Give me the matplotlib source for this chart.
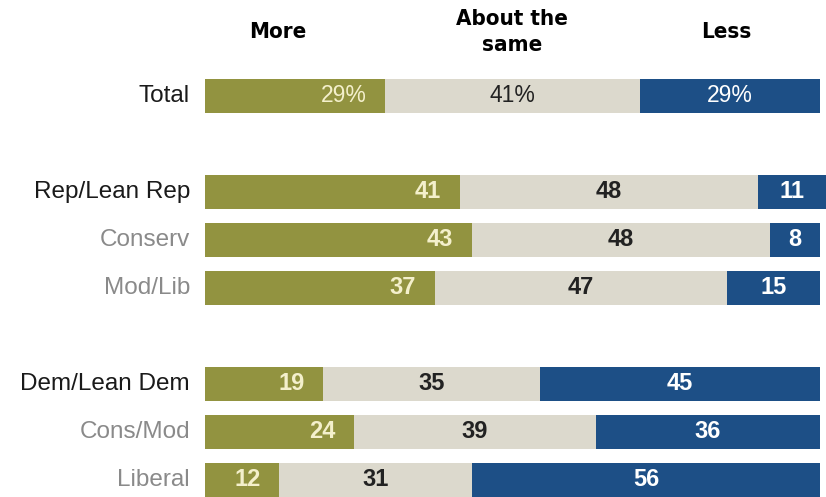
from matplotlib import pyplot as plt

# chart data
groups = ['Total', 'Rep/Lean Rep', 'Conserv', 'Mod/Lib',
          'Dem/Lean Dem', 'Cons/Mod', 'Liberal']
more = [29, 41, 43, 37, 19, 24, 12]
same = [41, 48, 48, 47, 35, 39, 31]
less = [29, 11, 8, 15, 45, 36, 56]
headers = ['More', 'About the\nsame', 'Less']

# layout (row slots, with blank rows between the blocks)
rows = [0, 2, 3, 4, 6, 7, 8]
subgroup = [False, False, True, True, False, True, True]

green = '#929340'
grey = '#dcd9cd'
blue = '#1d4f86'

fig = plt.figure(figsize=(8.26, 4.97), dpi=100)
ax = fig.add_axes([0, 0, 1, 1])
ax.set_xlim(-33, 100)
ax.set_ylim(8.36, -2.0)
ax.axis('off')

h = 0.71
ax.barh(rows, more, height=h, color=green)
ax.barh(rows, same, left=more, height=h, color=grey)
left_less = [m + s for m, s in zip(more, same)]
ax.barh(rows, less, left=left_less, height=h, color=blue)

font = ['Liberation Sans', 'DejaVu Sans']
for i, r in enumerate(rows):
    pct = '%' if i == 0 else ''
    w = 'normal' if i == 0 else 'bold'
    fs = 16.5 if i == 0 else 17
    ax.text(-2.4, r, groups[i], ha='right', va='center', fontsize=17.5,
            family=font, color='#8a8a8a' if subgroup[i] else '#1a1a1a')
    ax.text(more[i] - 3, r, f'{more[i]}{pct}', ha='right', va='center',
            fontsize=fs, family=font, color='#f4f0cc', fontweight=w)
    ax.text(more[i] + same[i] / 2, r, f'{same[i]}{pct}', ha='center',
            va='center', fontsize=fs, family=font, color='#222222',
            fontweight=w)
    ax.text(left_less[i] + less[i] / 2, r, f'{less[i]}{pct}', ha='center',
            va='center', fontsize=fs, family=font, color='white',
            fontweight=w)

head_x = [11.8, 49.4, 84.0]
for x, t in zip(head_x, headers):
    ax.text(x, -1.33, t, ha='center', va='center', fontsize=16,
            fontweight='bold', fontstretch='condensed',
            family=['DejaVu Sans'], linespacing=1.35)

fig.savefig('out.png', dpi=100, facecolor='white')
